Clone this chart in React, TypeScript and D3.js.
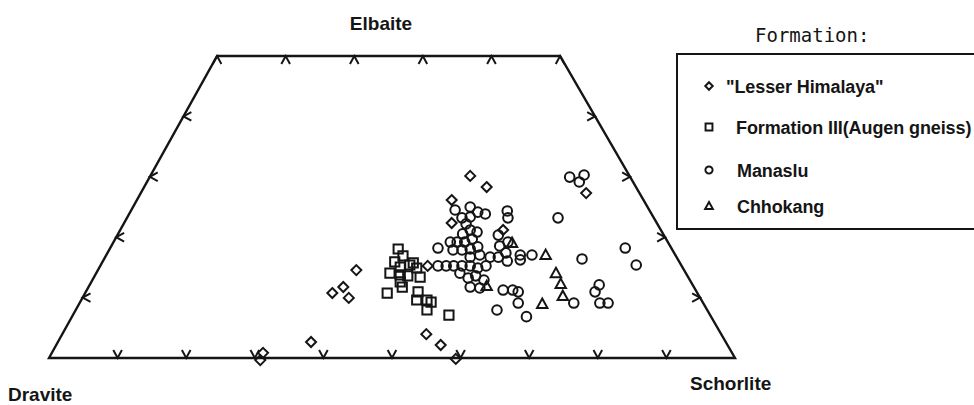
import React, { useEffect, useRef } from "react";
import * as d3 from "d3";

// positions in diagram units: x = 0 (Dravite) .. 100 (Schorlite) along the base,
// y = 0 (base) .. 100 (Elbaite side, top edge)
const outline: [number, number][] = [
  [0, 0],
  [100, 0],
  [74.5, 100],
  [24.5, 100],
];

const baseTicks = [10, 20, 30, 40, 50, 60, 70, 80, 90];
const topTicks = [24.5, 34.5, 44.5, 54.5, 64.5, 74.5];
const sideTicks = [20, 40, 60, 80];

const lesserHimalaya: [number, number][] = [
  [61.4, 60.3], [63.8, 56.6], [58.7, 52.3], [58.7, 44.7], [66.2, 42.4],
  [78.3, 54.6], [55.2, 30.5], [44.8, 29.1], [42.9, 23.5], [41.3, 21.5],
  [43.7, 19.9], [38.2, 5.3], [31.2, 1.7], [30.8, -0.7], [55.0, 7.9],
  [57.1, 4.3], [59.3, -0.3],
];

const formationIII: [number, number][] = [
  [50.9, 36.1], [51.6, 33.8], [50.4, 31.8], [53.1, 31.5], [51.2, 30.1],
  [52.6, 30.8], [53.6, 29.8], [49.7, 28.1], [51.2, 27.5], [52.3, 27.2],
  [54.1, 26.8], [51.2, 25.2], [51.5, 23.5], [49.3, 21.5], [53.8, 21.9],
  [53.6, 19.2], [55.1, 19.2], [55.1, 15.9], [55.7, 18.5], [58.3, 14.2],
];

const manaslu: [number, number][] = [
  [75.9, 59.9], [77.3, 58.3], [78.0, 60.6],
  [66.8, 48.7], [66.9, 46.4], [74.2, 46.4],
  [59.2, 49.0], [61.4, 50.0], [60.2, 46.4], [61.4, 46.7], [62.5, 48.3], [63.6, 47.7],
  [61.4, 42.4], [60.3, 41.1], [62.4, 41.7], [65.5, 40.7], [60.8, 44.4],
  [56.7, 36.4], [58.5, 38.4], [59.5, 38.4], [60.6, 38.4], [61.7, 39.4],
  [58.9, 35.8], [60.2, 35.8], [61.4, 36.1], [62.5, 36.8], [66.9, 38.4], [65.7, 37.1],
  [61.4, 33.4], [62.8, 34.1], [64.3, 33.4], [65.5, 33.4], [66.6, 34.8], [66.8, 32.1],
  [68.7, 34.1], [68.7, 32.5], [70.4, 34.1], [77.7, 32.8], [84.0, 36.4], [85.6, 30.8],
  [56.7, 30.5], [57.9, 30.5], [59.0, 30.5], [60.2, 30.5], [61.4, 30.5], [62.5, 29.8], [63.7, 30.5],
  [59.9, 28.1], [61.1, 26.5], [62.2, 27.2], [63.4, 25.8], [61.4, 23.5], [62.8, 23.2],
  [66.2, 22.5], [67.6, 22.5], [68.4, 21.9], [68.4, 18.2], [69.6, 13.7], [65.3, 15.9],
  [76.5, 18.2], [80.2, 24.2], [79.6, 21.9], [80.3, 18.2], [81.5, 18.2],
];

const chhokang: [number, number][] = [
  [67.5, 38.1], [72.4, 34.1], [73.9, 28.1], [74.6, 24.5], [74.9, 20.5],
  [71.9, 17.9], [63.8, 23.8],
];

const legendLabels = [
  '"Lesser Himalaya"',
  "Formation III(Augen gneiss)",
  "Manaslu",
  "Chhokang",
];

const shapes = {
  diamond: "M0,-5L5,0L0,5L-5,0Z",
  square: "M-4.6,-4.6H4.6V4.6H-4.6Z",
  circle: "M4.8,0A4.8,4.8 0 1,1 -4.8,0A4.8,4.8 0 1,1 4.8,0Z",
  triangle: "M0,-5.4L5.2,4H-5.2Z",
};

const series = [
  { data: lesserHimalaya, shape: shapes.diamond },
  { data: formationIII, shape: shapes.square },
  { data: manaslu, shape: shapes.circle },
  { data: chhokang, shape: shapes.triangle },
];

export default function App() {
  const ref = useRef<SVGSVGElement>(null);

  useEffect(() => {
    const svg = d3.select(ref.current);
    svg.selectAll("*").remove();

    const x = d3.scaleLinear().domain([0, 100]).range([49, 735]);
    const y = d3.scaleLinear().domain([0, 100]).range([358, 56]);

    const ink = "#151515";
    const sans = "'Liberation Sans', Arial, sans-serif";

    // trapezoid frame
    svg
      .append("path")
      .attr("d", d3.line()(outline.map((d) => [x(d[0]), y(d[1])]))! + "Z")
      .attr("fill", "none")
      .attr("stroke", ink)
      .attr("stroke-width", 2.4)
      .attr("stroke-linejoin", "miter");

    // ticks: little chevrons with their point on the edge
    const chevron = (px: number, py: number, dx: number, dy: number) => {
      const len = 9;
      const spread = 0.5;
      const a = Math.atan2(dy, dx);
      const p1 = [px + len * Math.cos(a - spread), py + len * Math.sin(a - spread)];
      const p2 = [px + len * Math.cos(a + spread), py + len * Math.sin(a + spread)];
      svg
        .append("path")
        .attr("d", `M${p1[0]},${p1[1]}L${px},${py}L${p2[0]},${p2[1]}`)
        .attr("fill", "none")
        .attr("stroke", ink)
        .attr("stroke-width", 2);
    };

    baseTicks.forEach((t) => chevron(x(t), y(0), 0, -1));
    topTicks.forEach((t) => chevron(x(t), y(100), 0, 1));
    const leftAt = (v: number) => x(outline[0][0] + ((outline[3][0] - outline[0][0]) * v) / 100);
    const rightAt = (v: number) => x(outline[1][0] + ((outline[2][0] - outline[1][0]) * v) / 100);
    sideTicks.forEach((t) => chevron(leftAt(t), y(t), 1, 0));
    sideTicks.forEach((t) => chevron(rightAt(t), y(t), -1, 0));

    // corner labels
    const label = (text: string, lx: number, ly: number, anchor: string) =>
      svg
        .append("text")
        .attr("x", lx)
        .attr("y", ly)
        .attr("text-anchor", anchor)
        .style("font-family", sans)
        .style("font-weight", "bold")
        .style("font-size", "19px")
        .style("fill", ink)
        .text(text);
    label("Elbaite", 381, 30, "middle");
    label("Dravite", 8, 401, "start");
    label("Schorlite", 690, 390, "start");

    // data points
    series.forEach((s) => {
      svg
        .append("g")
        .selectAll("path")
        .data(s.data)
        .join("path")
        .attr("transform", (d) => `translate(${x(d[0])},${y(d[1])})`)
        .attr("d", s.shape)
        .attr("fill", "none")
        .attr("stroke", ink)
        .attr("stroke-width", 2);
    });

    // legend
    svg
      .append("text")
      .attr("x", 755)
      .attr("y", 42)
      .style("font-family", "'DejaVu Sans Mono', monospace")
      .style("font-size", "19px")
      .style("fill", ink)
      .text("Formation:");

    svg
      .append("rect")
      .attr("x", 677)
      .attr("y", 54)
      .attr("width", 320)
      .attr("height", 175)
      .attr("fill", "none")
      .attr("stroke", ink)
      .attr("stroke-width", 2);

    const rowY = [86, 127, 170, 206];
    const textX = [726, 736, 737, 737];
    legendLabels.forEach((name, i) => {
      svg
        .append("path")
        .attr("transform", `translate(709,${rowY[i]}) scale(0.75)`)
        .attr("d", series[i].shape)
        .attr("fill", "none")
        .attr("stroke", ink)
        .attr("stroke-width", 2.6);
      svg
        .append("text")
        .attr("x", textX[i])
        .attr("y", rowY[i] + 7)
        .style("font-family", sans)
        .style("font-weight", "bold")
        .style("font-size", "18px")
        .style("letter-spacing", "-0.1px")
        .style("fill", ink)
        .text(name);
    });
  }, []);

  return (
    <svg
      ref={ref}
      width={974}
      height={405}
      style={{ position: "absolute", left: 0, top: 0, background: "#fff" }}
    />
  );
}
